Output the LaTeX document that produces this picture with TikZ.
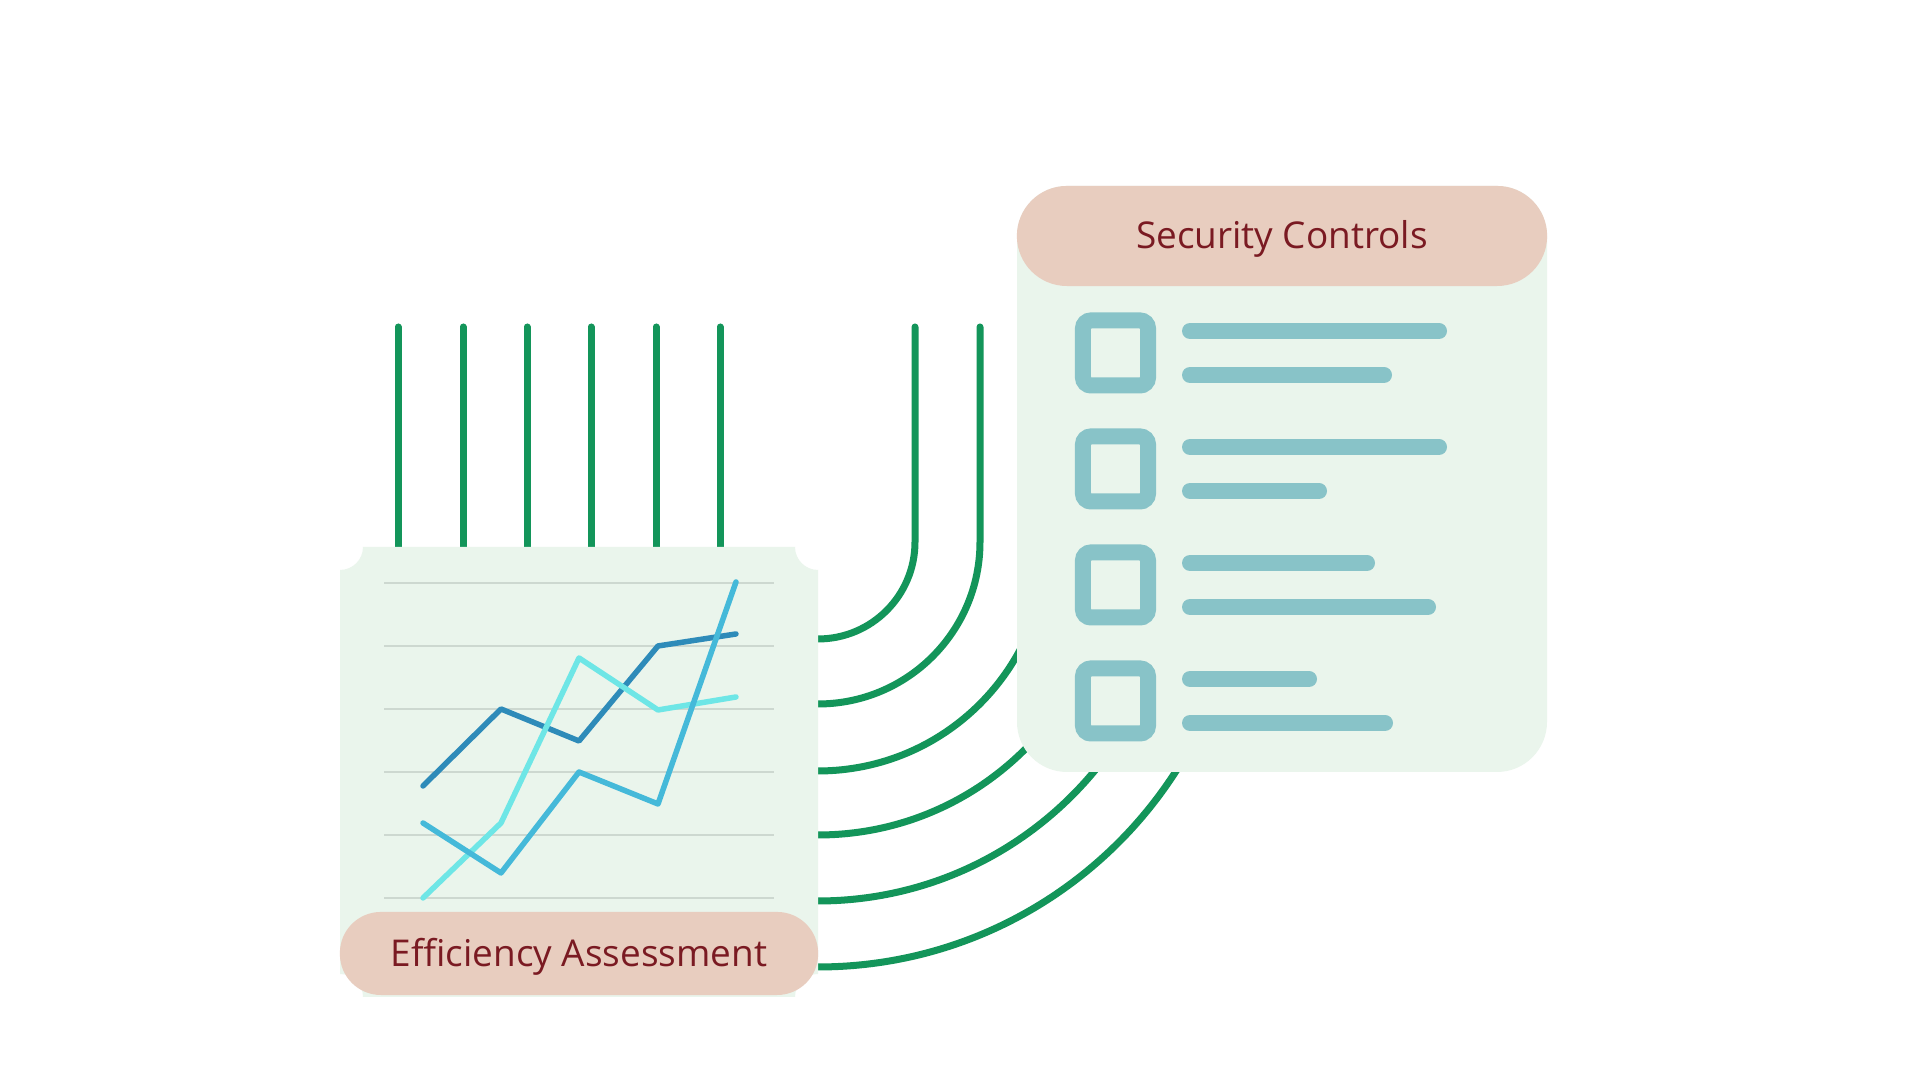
\documentclass[tikz,border=0pt]{standalone}
\usepackage{fontspec}
\setmainfont{Open Sans}
\usepackage{tikz}
\definecolor{leafgreen}{HTML}{13955A}
\definecolor{mintfill}{HTML}{EAF5EC}
\definecolor{peach}{HTML}{E8CDBF}
\definecolor{wine}{HTML}{7A1A22}
\definecolor{boxteal}{HTML}{88C3C8}
\definecolor{chartdark}{HTML}{2E8BB9}
\definecolor{chartcyan}{HTML}{6EE6E6}
\definecolor{chartmid}{HTML}{45B9D9}
\definecolor{gridgray}{HTML}{CDD8D0}
\tikzstyle{wire} = [leafgreen, line width = 0.07cm, line cap = round]
\tikzstyle{pill} = [fill = peach, text = wine, font = \fontsize{10.5}{12}\selectfont, inner sep = 0pt, text height = 0.26cm, text depth = 0cm]
\tikzstyle{checkbox} = [draw = boxteal, line width = 0.16cm, rounded corners = 0.08cm, minimum size = 0.65cm]
\tikzstyle{bar} = [boxteal, line width = 0.16cm, line cap = round]
\tikzstyle{trend} = [line width = 0.055cm, line cap = round, line join = round]

\begin{document}
\begin{tikzpicture}[x = 0.01cm, y = 0.01cm]
            \fill[white] (0,0) rectangle (1920,1080);
            % wires
            \foreach \x in {398, 463, 527, 591, 656, 720}
                \draw [wire] (\x,753) -- (\x,520);
            \foreach \r in {97, 162, 229, 293, 359, 425}
                \draw [wire] (818+\r,753) -- (818+\r,538) arc[start angle = 0, end angle = -90, radius = \r] -- ++(-20,0);
            % chart card
            \fill [mintfill] (363,533) -- (795,533) arc[start angle = 180, end angle = 270, radius = 23] -- (818,106) arc[start angle = 90, end angle = 180, radius = 23] -- (363,83) arc[start angle = 0, end angle = 90, radius = 23] -- (340,510) arc[start angle = 270, end angle = 360, radius = 23] -- cycle;
            \foreach \y in {497, 434, 371, 308, 245, 182}
                \draw [gridgray, line width = 0.015cm] (384,\y) -- (774,\y);
            \draw [trend, chartdark] (423,294) -- (501,371) -- (579,339) -- (658,434) -- (736,446);
            \draw [trend, chartcyan] (423,182) -- (501,257) -- (579,422) -- (658,370) -- (736,383);
            \draw [trend, chartmid] (423,257) -- (501,207) -- (579,308) -- (658,276) -- (736,498);
            \node (effic) at (579,126.5) [pill, rounded corners = 0.41cm, minimum width = 4.78cm, minimum height = 0.83cm] {Efficiency Assessment};
            % checklist card
            \fill [mintfill, rounded corners = 0.5cm] (1017,308) rectangle (1547,894);
            \node (secur) at (1282,844) [pill, rounded corners = 0.5cm, minimum width = 5.30cm, minimum height = 1.00cm] {Security Controls};
            \foreach \i/\la/\lb in {0/1439/1384, 1/1439/1319, 2/1367/1428, 3/1309/1385} {
                \node (box\i) at (1115.5,727-116*\i) [checkbox] {};
                \draw [bar] (1190,749-116*\i) -- (\la,749-116*\i);
                \draw [bar] (1190,705-116*\i) -- (\lb,705-116*\i);
            }
        \end{tikzpicture}
\end{document}
